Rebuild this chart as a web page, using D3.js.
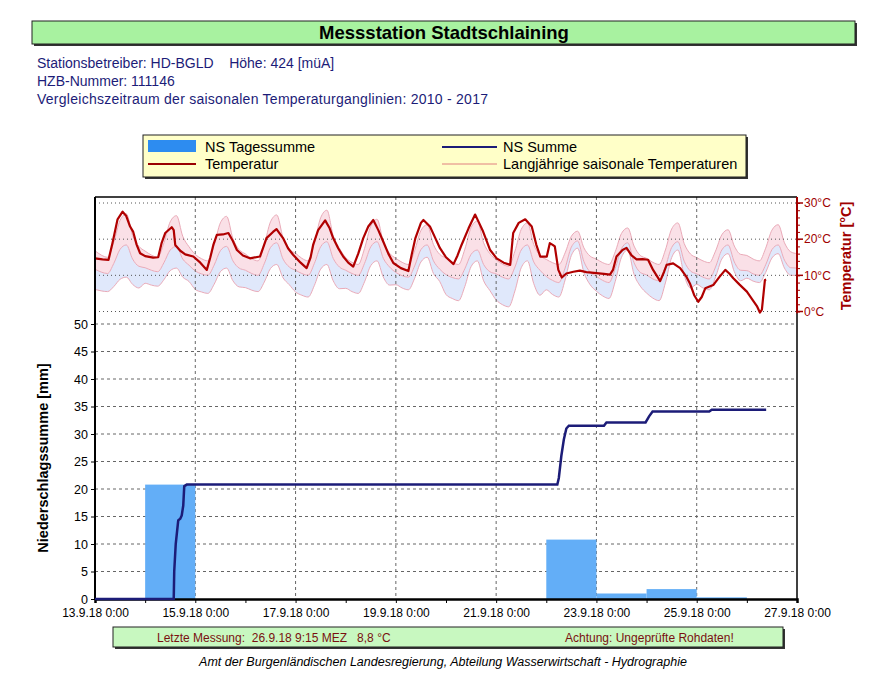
<!DOCTYPE html>
<html>
<head>
<meta charset="utf-8">
<script src="https://cdn.jsdelivr.net/npm/d3@7"></script>
<style>
  body { margin: 0; background: #fff; }
  svg { font-family: "Liberation Sans", Arial, sans-serif; }
</style>
</head>
<body>
<div id="chart"></div>
<script>
const width = 874;
const height = 680;

// Zeitachse: 13.9.18 0:00 bis 27.9.18 0:00
const start = new Date(2018, 8, 13);
const dayMs = 864e5;
const at = d => new Date(+start + d * dayMs);

const xTickLabels = ["13.9.18 0:00", "", "15.9.18 0:00", "", "17.9.18 0:00", "", "19.9.18 0:00", "",
  "21.9.18 0:00", "", "23.9.18 0:00", "", "25.9.18 0:00", "", "27.9.18 0:00"];
const precipTicks = [0, 5, 10, 15, 20, 25, 30, 35, 40, 45, 50];
const tempTicks = [0, 10, 20, 30];

// NS Tagessumme [mm], je Tag ab 13.9.
const rainDaily = [0, 20.8, 0, 0, 0, 0, 0, 0, 0, 10.8, 1.0, 1.8, 0.3, 0];

// NS Summe [mm] (Tage ab Beginn, Wert)
const sumDay = [0, 1.57, 1.58, 1.61, 1.66, 1.70, 1.73, 1.76, 1.78, 1.83, 9.22, 9.25, 9.30, 9.35, 9.40, 9.45,
  10.15, 10.20, 10.98, 11.05, 11.12, 12.25, 12.30, 13.385];
const sumMm = [0, 0, 5.0, 10.0, 14.3, 14.6, 15.2, 17.0, 20.5, 20.8, 20.8, 22.0, 26.0, 29.0, 31.0, 31.5,
  31.5, 32.1, 32.1, 33.2, 34.1, 34.1, 34.4, 34.4];

// Temperatur [°C] (Tage ab Beginn, Wert)
const tempDay = [0.00, 0.15, 0.27, 0.35, 0.45, 0.55, 0.62, 0.70, 0.76, 0.83, 0.90, 1.00, 1.16, 1.26, 1.33,
  1.40, 1.53, 1.57, 1.60, 1.70, 1.80, 1.96, 2.10, 2.23, 2.30, 2.36, 2.43, 2.55, 2.66, 2.75, 2.83, 2.95,
  3.09, 3.29, 3.35, 3.42, 3.55, 3.62, 3.75, 3.85, 3.95, 4.10, 4.22, 4.30, 4.35, 4.45, 4.59, 4.68, 4.75,
  4.85, 4.95, 5.05, 5.15, 5.25, 5.35, 5.45, 5.55, 5.65, 5.75, 5.85, 5.95, 6.10, 6.25, 6.32, 6.39, 6.50,
  6.55, 6.68, 6.78, 6.88, 7.00, 7.15, 7.23, 7.31, 7.45, 7.58, 7.66, 7.74, 7.88, 8.01, 8.15, 8.28, 8.34,
  8.45, 8.58, 8.71, 8.80, 8.88, 9.01, 9.07, 9.12, 9.17, 9.24, 9.31, 9.40, 9.54, 9.67, 9.80, 10.00, 10.15,
  10.27, 10.33, 10.40, 10.52, 10.60, 10.70, 10.80, 10.92, 11.03, 11.13, 11.27, 11.35, 11.40, 11.53, 11.67,
  11.80, 11.87, 11.95, 12.03, 12.10, 12.17, 12.33, 12.45, 12.57, 12.65, 12.73, 12.85, 13.00, 13.10, 13.20,
  13.26, 13.30, 13.36, 13.385];
const tempC = [14.7, 14.4, 14.3, 19.0, 25.5, 27.6, 26.5, 23.5, 22.1, 18.5, 16.1, 15.3, 14.9, 15.0, 19.0,
  21.7, 23.3, 22.5, 18.4, 16.8, 15.8, 15.2, 13.5, 11.5, 15.0, 18.4, 21.2, 21.3, 21.7, 19.5, 17.0, 15.5,
  14.7, 15.2, 17.5, 20.3, 22.0, 22.8, 20.3, 17.5, 15.7, 13.5, 12.0, 15.0, 18.4, 22.5, 25.2, 23.0, 20.3,
  17.5, 15.2, 13.5, 12.4, 16.0, 20.3, 23.5, 25.3, 22.5, 19.3, 16.0, 13.4, 12.0, 11.2, 16.0, 20.3, 24.5,
  25.3, 23.5, 20.5, 17.5, 15.0, 13.1, 15.5, 18.4, 23.0, 26.8, 24.5, 22.1, 17.0, 14.7, 13.5, 12.9, 21.7,
  24.5, 25.5, 23.5, 18.5, 15.2, 15.2, 18.9, 18.5, 18.0, 11.5, 9.4, 10.5, 11.0, 11.3, 10.9, 10.6, 10.4,
  10.2, 11.5, 15.2, 17.0, 17.6, 15.5, 14.4, 14.5, 14.3, 11.5, 8.4, 11.0, 12.9, 13.3, 12.0,
  9.5, 7.6, 4.5, 2.7, 4.0, 6.4, 7.3, 9.5, 11.5, 10.5, 9.2, 7.5, 5.5, 3.5, 1.5,
  -0.3, 0.5, 8.7, 8.8];

// Langjährige saisonale Temperaturen, 3-Stunden-Werte ab 13.9. 0:00
const bandUpper = [
  16.8, 15.6, 15.0, 19.2, 25.2, 27.0, 21.0, 18.0,
  16.7, 15.6, 15.0, 19.0, 24.8, 26.5, 20.8, 17.9,
  15.8, 14.6, 14.0, 18.3, 24.5, 26.3, 20.2, 17.1,
  15.9, 14.6, 14.0, 18.4, 24.8, 26.7, 20.4, 17.2,
  16.1, 14.7, 14.0, 18.9, 25.9, 28.0, 21.0, 17.5,
  14.9, 13.6, 13.0, 17.4, 23.6, 25.5, 19.3, 16.1,
  14.7, 13.6, 13.0, 16.9, 22.4, 24.0, 18.5, 15.8,
  14.8, 13.6, 13.0, 17.2, 23.2, 25.0, 19.0, 16.0,
  14.3, 13.1, 12.5, 16.7, 22.7, 24.5, 18.5, 15.5,
  14.4, 13.5, 13.0, 16.2, 20.8, 22.2, 17.6, 15.3,
  14.5, 13.5, 13.0, 16.5, 21.6, 23.1, 18.1, 15.5,
  14.7, 13.6, 13.0, 17.0, 22.8, 24.5, 18.8, 15.9,
  14.9, 14.0, 13.5, 16.7, 21.2, 22.6, 18.1, 15.8,
  15.5, 14.5, 14.0, 17.5, 22.5, 24.0, 19.0, 16.5,
  16.0];
const bandMean = [
  11.7, 10.9, 10.5, 13.3, 17.2, 18.4, 14.5, 12.5,
  12.1, 11.4, 11.0, 13.5, 17.0, 18.0, 14.5, 12.8,
  11.2, 10.4, 10.0, 12.8, 16.8, 18.0, 14.0, 12.0,
  11.4, 10.5, 10.0, 13.2, 17.7, 19.0, 14.5, 12.3,
  11.4, 10.5, 10.0, 13.3, 17.9, 19.3, 14.7, 12.3,
  11.4, 10.5, 10.0, 13.3, 17.9, 19.3, 14.7, 12.3,
  10.8, 9.9, 9.5, 12.6, 17.1, 18.4, 14.0, 11.7,
  10.2, 9.4, 9.0, 11.8, 15.8, 17.0, 13.0, 11.0,
  10.4, 9.5, 9.0, 12.3, 17.0, 18.4, 13.7, 11.4,
  9.7, 8.6, 8.0, 12.0, 17.8, 19.5, 13.8, 10.9,
  9.7, 8.6, 8.0, 11.9, 17.4, 19.0, 13.5, 10.8,
  10.1, 9.0, 8.5, 12.3, 17.7, 19.3, 13.9, 11.2,
  10.4, 9.5, 9.0, 12.3, 17.0, 18.4, 13.7, 11.4,
  11.3, 10.4, 10.0, 12.9, 17.1, 18.4, 14.2, 12.1,
  12.0];
const bandLower = [
  6.1, 5.7, 5.5, 6.9, 8.9, 9.5, 7.5, 6.5,
  7.8, 7.3, 7.0, 8.8, 11.3, 12.0, 9.5, 8.3,
  6.1, 5.4, 5.0, 7.5, 11.0, 12.0, 8.5, 6.8,
  6.6, 5.9, 5.5, 8.1, 11.9, 13.0, 9.3, 7.4,
  5.4, 4.5, 4.0, 7.2, 11.7, 13.0, 8.5, 6.3,
  6.4, 5.5, 5.0, 8.2, 12.7, 14.0, 9.5, 7.3,
  7.4, 6.5, 6.0, 9.2, 13.7, 15.0, 10.5, 8.3,
  4.7, 3.6, 3.0, 6.9, 12.4, 14.0, 8.5, 5.8,
  3.2, 1.9, 1.3, 5.7, 12.1, 14.0, 7.7, 4.5,
  6.0, 4.7, 4.0, 8.7, 15.5, 17.5, 10.8, 7.4,
  5.6, 4.3, 3.6, 8.3, 15.0, 17.0, 10.3, 7.0,
  5.1, 3.7, 3.0, 7.9, 14.9, 17.0, 10.0, 6.5,
  7.5, 6.5, 6.0, 9.5, 14.5, 16.0, 11.0, 8.5,
  9.2, 8.4, 8.0, 10.8, 14.8, 16.0, 12.0, 10.0,
  10.0];

const svg = d3.select("#chart")
    .append("svg")
    .attr("width", width)
    .attr("height", height);

const navy = "#1c1c78";
const darkRed = "#a00000";

// Rahmen mit Schatten
function shadowBox(x, y, w, h, fill) {
    svg.append("rect").attr("x", x + 2).attr("y", y + 2).attr("width", w).attr("height", h).attr("fill", "#333");
    svg.append("rect").attr("x", x).attr("y", y).attr("width", w).attr("height", h)
       .attr("fill", fill).attr("stroke", "#222").attr("stroke-width", 1);
}

// Titel
shadowBox(32, 21, 823, 23, "#a8f2a0");
svg.append("text").attr("x", 444).attr("y", 39).attr("text-anchor", "middle")
   .attr("font-size", 18.5).attr("font-weight", "bold").text("Messstation Stadtschlaining");

const info = ["Stationsbetreiber: HD-BGLD    Höhe: 424 [müA]", "HZB-Nummer: 111146",
  "Vergleichszeitraum der saisonalen Temperaturganglinien: 2010 - 2017"];
info.forEach((s, i) => {
    svg.append("text").attr("x", 37).attr("y", 68 + i * 18).attr("font-size", 14)
       .attr("textLength", i === 2 ? 451 : null)
       .attr("fill", navy).style("white-space", "pre").text(s);
});

// Legende
shadowBox(143, 135, 603, 42, "#ffffc8");
svg.append("rect").attr("x", 148).attr("y", 140).attr("width", 48).attr("height", 12).attr("fill", "#2d8cf0");
svg.append("line").attr("x1", 148).attr("x2", 196).attr("y1", 164).attr("y2", 164).attr("stroke", "#9a0000").attr("stroke-width", 2);
svg.append("line").attr("x1", 442).attr("x2", 497).attr("y1", 147).attr("y2", 147).attr("stroke", navy).attr("stroke-width", 2);
svg.append("line").attr("x1", 442).attr("x2", 497).attr("y1", 164).attr("y2", 164).attr("stroke", "#e08080").attr("stroke-width", 1);
[["NS Tagessumme", 205, 152], ["Temperatur", 205, 169], ["NS Summe", 503, 152], ["Langjährige saisonale Temperaturen", 503, 169]]
  .forEach(d => svg.append("text").attr("x", d[1]).attr("y", d[2]).attr("font-size", 14.5).text(d[0]));

// Skalen
const plotL = 95, plotR = 797, plotT = 197, plotB = 599;
const x = d3.scaleTime().domain([at(0), at(14)]).range([plotL, plotR]);
const yP = d3.scaleLinear().domain([0, 50]).range([plotB, 324]);
const yT = d3.scaleLinear().domain([0, 30]).range([311.5, 203]);

// Saisonale Bänder
const bandT = bandUpper.map((d, i) => at(i * 0.125));
const upperArea = d3.area().x((d, i) => x(bandT[i])).y0((d, i) => yT(bandMean[i])).y1(d => yT(d)).curve(d3.curveMonotoneX);
const lowerArea = d3.area().x((d, i) => x(bandT[i])).y0((d, i) => yT(bandLower[i])).y1((d, i) => yT(bandMean[i])).curve(d3.curveMonotoneX);
svg.append("path").datum(bandUpper).attr("d", upperArea).attr("fill", "#fae0e7");
svg.append("path").datum(bandUpper).attr("d", lowerArea).attr("fill", "#e0e8fb");
const bandLine = d3.line().x((d, i) => x(bandT[i])).y(d => yT(d)).curve(d3.curveMonotoneX);
[bandUpper, bandMean, bandLower].forEach(arr => {
    svg.append("path").datum(arr).attr("d", bandLine).attr("fill", "none")
       .attr("stroke", "#eaaab8").attr("stroke-width", 1);
});

// Gitter
const grid = svg.append("g");
tempTicks.forEach(v => grid.append("line").attr("x1", plotL).attr("x2", plotR).attr("y1", yT(v)).attr("y2", yT(v))
   .attr("stroke", "#555").attr("stroke-dasharray", "1,3"));
precipTicks.slice(1).forEach(v => grid.append("line").attr("x1", plotL).attr("x2", plotR).attr("y1", yP(v)).attr("y2", yP(v))
   .attr("stroke", "#666").attr("stroke-dasharray", "3,3"));
d3.range(2, 14, 2).forEach(d => grid.append("line").attr("x1", x(at(d))).attr("x2", x(at(d))).attr("y1", plotT).attr("y2", plotB)
   .attr("stroke", "#666").attr("stroke-dasharray", "3,3"));

// Tagesbalken
svg.selectAll("rect.bar").data(rainDaily).join("rect").attr("class", "bar")
   .attr("x", (d, i) => x(at(i))).attr("width", (d, i) => x(at(i + 1)) - x(at(i)))
   .attr("y", d => yP(d)).attr("height", d => yP(0) - yP(d)).attr("fill", "#63aef7");

// Temperatur
svg.append("path").datum(tempC)
   .attr("d", d3.line().x((d, i) => x(at(tempDay[i]))).y(d => yT(d)))
   .attr("fill", "none").attr("stroke", "#b00000").attr("stroke-width", 2.2).attr("stroke-linejoin", "round");

// Achsen
svg.append("line").attr("x1", plotL).attr("x2", plotR).attr("y1", plotT).attr("y2", plotT).attr("stroke", "#000").attr("stroke-width", 1.5);
svg.append("line").attr("x1", plotR).attr("x2", plotR).attr("y1", plotT).attr("y2", plotB).attr("stroke", "#000").attr("stroke-width", 1.5);

const xAxis = svg.append("g").attr("transform", `translate(0,${plotB})`)
   .call(d3.axisBottom(x).tickValues(d3.range(0, 15).map(at)).tickSize(4)
         .tickFormat((d, i) => xTickLabels[i]));
xAxis.select(".domain").attr("stroke-width", 2.5);
xAxis.selectAll("text").attr("font-size", 12).attr("dy", "0.9em").attr("fill", "#000");
xAxis.attr("font-family", null);

const yAxis = svg.append("g").attr("transform", `translate(${plotL},0)`)
   .call(d3.axisLeft(yP).tickValues(precipTicks).tickSize(4));
yAxis.select(".domain").remove();
yAxis.selectAll("text").attr("font-size", 12.5).attr("fill", "#000");
yAxis.attr("font-family", null);
svg.append("line").attr("x1", plotL).attr("x2", plotL).attr("y1", plotT).attr("y2", plotB).attr("stroke", "#000").attr("stroke-width", 2);

const tAxis = svg.append("g").attr("transform", `translate(${plotR},0)`)
   .call(d3.axisRight(yT).tickValues(d3.range(0, 31, 2)).tickSize(3).tickFormat(""));
tAxis.select(".domain").attr("stroke", darkRed).attr("stroke-width", 2).attr("d", `M0,${plotT}V${yT(-0.5)}`);
tAxis.selectAll("line").attr("stroke", darkRed);
tAxis.selectAll(null).data(tempTicks).join("g")
   .call(g => g.append("line").attr("x1", 0).attr("x2", 6).attr("y1", d => yT(d)).attr("y2", d => yT(d)).attr("stroke", darkRed).attr("stroke-width", 1.5))
   .call(g => g.append("text").attr("x", 7).attr("y", d => yT(d)).attr("dy", "0.35em")
                .attr("font-size", 12).attr("fill", darkRed).text(d => d + "°C"));

// NS Summe
svg.append("path").datum(sumMm)
   .attr("d", d3.line().x((d, i) => x(at(sumDay[i]))).y(d => yP(d)))
   .attr("fill", "none").attr("stroke", navy).attr("stroke-width", 2.5);

// Achsentitel
svg.append("text").attr("transform", "translate(48,458) rotate(-90)").attr("text-anchor", "middle")
   .attr("font-size", 14.5).attr("font-weight", "bold").text("Niederschlagssumme [mm]");
svg.append("text").attr("transform", "translate(851,256) rotate(-90)").attr("text-anchor", "middle")
   .attr("font-size", 14.5).attr("font-weight", "bold").attr("fill", darkRed).text("Temperatur [°C]");

// Fußzeile
shadowBox(113, 627, 670, 20, "#c8f8c0");
svg.append("text").attr("x", 157).attr("y", 642).attr("font-size", 12).attr("fill", "#7a1010")
   .style("white-space", "pre").text("Letzte Messung:  26.9.18 9:15 MEZ   8,8 °C");
svg.append("text").attr("x", 565).attr("y", 642).attr("font-size", 12).attr("fill", "#7a1010")
   .text("Achtung: Ungeprüfte Rohdaten!");
svg.append("text").attr("x", 443).attr("y", 666).attr("text-anchor", "middle").attr("font-size", 12.5)
   .attr("font-style", "italic").text("Amt der Burgenländischen Landesregierung, Abteilung Wasserwirtschaft - Hydrographie");
</script>
</body>
</html>
